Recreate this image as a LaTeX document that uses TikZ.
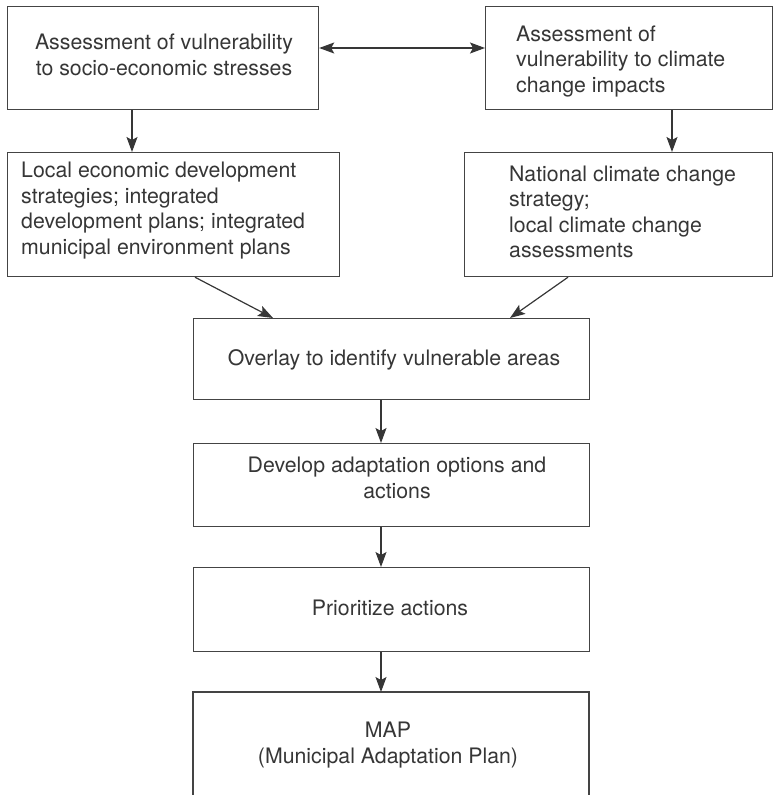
\documentclass[tikz,border=0pt]{standalone}
\usepackage{fontspec}
\setmainfont{TeX Gyre Heros}
\usetikzlibrary{arrows.meta}
\definecolor{ink}{HTML}{363636}
\definecolor{edge}{HTML}{444444}
\begin{document}
\begin{tikzpicture}[x=1pt,y=-1pt,
  box/.style={draw=edge, line width=1.2pt, rectangle, inner sep=0pt, anchor=north west},
  txt/.style={inner sep=0pt, font=\fontsize{21.3}{25.5}\selectfont, text=ink},
  arr/.style={draw=ink, line width=1.2pt, -{Stealth[length=15pt,width=11pt,inset=3pt]}},
  darr/.style={draw=ink, line width=1.2pt, {Stealth[length=15pt,width=11pt,inset=3pt]}-{Stealth[length=15pt,width=11pt,inset=3pt]}}]
\useasboundingbox (0,0) rectangle (773,795);
% boxes
\node[box, minimum width=311pt, minimum height=103pt] (a) at (7,6) {};
\node[box, minimum width=286.5pt, minimum height=103pt] (b) at (485,6) {};
\node[box, minimum width=332pt, minimum height=124pt] (c) at (7,152) {};
\node[box, minimum width=307.5pt, minimum height=124pt] (d) at (464,152) {};
\node[box, minimum width=396pt, minimum height=81pt] (e) at (193,318) {};
\node[box, minimum width=396pt, minimum height=83pt] (f) at (193,443) {};
\node[box, minimum width=396pt, minimum height=84pt] (g) at (193,567) {};
% MAP box (open at the bottom, cut by the page edge)
\coordinate (hnw) at (193,692);
\coordinate (hne) at (589,692);
\coordinate (hsw) at (193,800);
\coordinate (hse) at (589,800);
\draw[draw=edge, line width=1.1pt] (hsw) -- (hnw) -- (hne) -- (hse);
% texts
\node[txt, align=center] (at) at (164,55)
  {Assessment of vulnerability\\to socio-economic stresses};
\node[txt, align=left, anchor=west] (bt) at (516,61.5)
  {Assessment of\\vulnerability to climate\\change impacts};
\node[txt, align=left, anchor=west] (ct) at (21,210.5)
  {Local economic development\\strategies; integrated\\development plans; integrated\\municipal environment plans};
\node[txt, align=left, anchor=west] (dt) at (509,212)
  {National climate change\\strategy;\\local climate change\\assessments};
\node[txt, align=center] (et) at (394,360) {Overlay to identify vulnerable areas};
\node[txt, align=center] (ft) at (397,478) {Develop adaptation options and\\actions};
\node[txt, align=center] (gt) at (390,608) {Prioritize actions};
\node[txt, align=center] (h) at (388,745) {MAP\\(Municipal Adaptation Plan)};
% helper coordinates
\coordinate (lvl) at (0,48);
\coordinate (colA) at (132,0);
\coordinate (colB) at (672,0);
\coordinate (colM) at (381,0);
\coordinate (dl) at (195,0);
\coordinate (dlt) at (273,0);
\coordinate (dr) at (568,0);
\coordinate (drt) at (510,0);
\coordinate (hin) at (381,692);
% connectors
\draw[darr] (a.east |- lvl) -- (b.west |- lvl);
\draw[arr] (a.south -| colA) -- (c.north -| colA);
\draw[arr] (b.south -| colB) -- (d.north -| colB);
\draw[arr] (c.south -| dl) -- (e.north -| dlt);
\draw[arr] (d.south -| dr) -- (e.north -| drt);
\draw[arr] (e.south -| colM) -- (f.north -| colM);
\draw[arr] (f.south -| colM) -- (g.north -| colM);
\draw[arr] (g.south -| colM) -- (hin);
\end{tikzpicture}
\end{document}
